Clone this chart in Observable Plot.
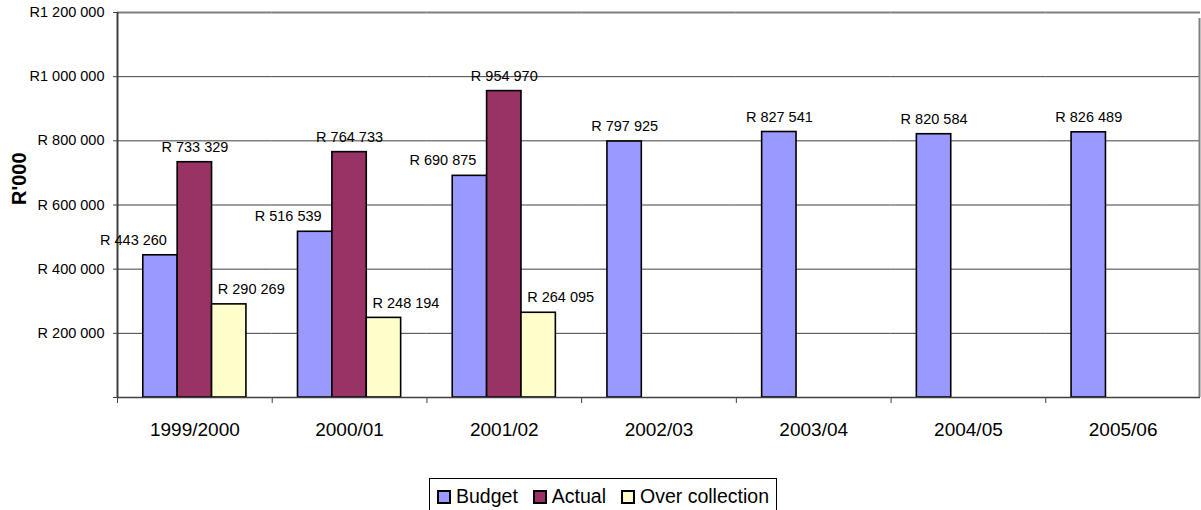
<!DOCTYPE html>
<html>
<head>
<meta charset="utf-8">
<script src="https://cdn.jsdelivr.net/npm/d3@7"></script>
<script src="https://cdn.jsdelivr.net/npm/@observablehq/plot@0.6"></script>
<style>
  body { margin: 0; background: #fff; font-family: "Liberation Sans", Arial, sans-serif; }
  #wrap { position: relative; width: 1201px; height: 510px; overflow: hidden; background: #fff; }
  #legend { position: absolute; left: 429px; top: 478px; width: 348px; height: 42px; box-sizing: border-box;
            border: 1px solid #000; display: flex; align-items: flex-start; padding: 6px 0 0 7px;
            font-size: 19.5px; color: #000; white-space: nowrap; }
  .item { display: flex; align-items: center; margin-right: 15px; }
  .sw { width: 10px; height: 10px; border: 2px solid #000; margin-right: 5px; }
</style>
</head>
<body>
<div id="wrap">
  <div id="chart"></div>
  <div id="legend"></div>
</div>
<script>
const years = ["1999/2000", "2000/01", "2001/02", "2002/03", "2003/04", "2004/05", "2005/06"];
const seriesNames = ["Budget", "Actual", "Over collection"];
const budget = [443260, 516539, 690875, 797925, 827541, 820584, 826489];
const actual = [733329, 764733, 954970, null, null, null, null];
const overCollection = [290269, 248194, 264095, null, null, null, null];
const seriesColors = ["#9999FF", "#993366", "#FFFFCC"];
const yTicks = [0, 200000, 400000, 600000, 800000, 1000000, 1200000];
const yTitle = "R'000";

const group = (n) => d3.format(",")(n).replace(/,/g, " ");
const tickFmt = (n) => n === 0 ? "" : (n >= 1e6 ? "R" : "R ") + group(n);
const labelFmt = (n) => "R " + group(n);

const rows = [];
const seriesValues = [budget, actual, overCollection];
years.forEach((y, i) => {
  seriesNames.forEach((s, j) => {
    const v = seriesValues[j][i];
    if (v != null) rows.push({year: y, series: s, value: v, grouped: actual[i] != null});
  });
});

const W = 1201, H = 460, mL = 117, mR = 1, mT = 12, mB = 63;
const bw = (W - mL - mR) / years.length;     // facet band width
const xb = bw / 4.5;                          // bar width
const font = "'Liberation Sans', Arial, sans-serif";

const chart = Plot.plot({
  width: W, height: H,
  marginLeft: mL, marginRight: mR, marginTop: mT, marginBottom: mB,
  style: {fontFamily: font, background: "white", color: "#000", overflow: "visible"},
  fx: {domain: years, padding: 0, round: false, label: null},
  x: {domain: seriesNames, paddingInner: 0, paddingOuter: 0.75, round: false, axis: null},
  y: {domain: [0, 1200000], axis: null},
  color: {domain: seriesNames, range: seriesColors},
  marks: [
    Plot.gridY(yTicks.filter(t => t > 0 && t < 1200000), {stroke: "#404040", strokeOpacity: 1, strokeWidth: 1}),
    Plot.ruleY([1200000], {stroke: "#808080", strokeWidth: 2}),
    Plot.barY(rows, {fx: "year", x: "series", y: "value", fill: "series", stroke: "#000", strokeWidth: 1.6}),
    Plot.ruleY([0], {stroke: "#404040", strokeWidth: 1.5}),
    // left axis line (first facet) and right border (last facet)
    Plot.ruleX([{year: years[0], s: seriesNames[0]}], {fx: "year", x: "s", dx: -1.25 * xb, y1: 0, y2: 1200000, stroke: "#404040", strokeWidth: 2}),
    Plot.ruleX([{year: years[years.length - 1], s: seriesNames[2]}], {fx: "year", x: "s", dx: 1.25 * xb - 1, y1: 0, y2: 1200000, insetBottom: -6, stroke: "#808080", strokeWidth: 2}),
    Plot.axisY({ticks: yTicks, tickSize: 4, tickPadding: 9, tickFormat: tickFmt, fontSize: 14.5, stroke: "#404040", label: null}),
    // category boundary ticks
    Plot.axisFx({anchor: "bottom", tickSize: 6, tickFormat: () => "", dx: -bw / 2, stroke: "#404040", label: null}),
    // category labels
    Plot.axisFx({anchor: "bottom", tickSize: 0, tickPadding: 25, fontSize: 19, label: null}),
    // value labels
    Plot.text(rows.filter(d => d.series === "Budget" && d.grouped), {fx: "year", x: "series", y: "value", text: d => labelFmt(d.value), dy: -15, dx: -27, fontSize: 14.5, fill: "#000"}),
    Plot.text(rows.filter(d => d.series === "Budget" && !d.grouped), {fx: "year", x: "series", y: "value", text: d => labelFmt(d.value), dy: -15, fontSize: 14.5, fill: "#000"}),
    Plot.text(rows.filter(d => d.series === "Actual"), {fx: "year", x: "series", y: "value", text: d => labelFmt(d.value), dy: -15, fontSize: 14.5, fill: "#000"}),
    Plot.text(rows.filter(d => d.series === "Over collection"), {fx: "year", x: "series", y: "value", text: d => labelFmt(d.value), dy: -15, dx: 22, fontSize: 14.5, fill: "#000"}),
    // y title
    Plot.text([{year: years[0]}], {fx: "year", text: () => yTitle, frameAnchor: "left", rotate: -90, dx: -98, fontSize: 20, fontWeight: "bold", fill: "#000"})
  ]
});
document.getElementById("chart").appendChild(chart);

const legend = document.getElementById("legend");
seriesNames.forEach((s, i) => {
  const it = document.createElement("div");
  it.className = "item";
  const sw = document.createElement("div");
  sw.className = "sw";
  sw.style.background = seriesColors[i];
  const t = document.createElement("span");
  t.textContent = s;
  it.appendChild(sw);
  it.appendChild(t);
  legend.appendChild(it);
});
</script>
</body>
</html>
